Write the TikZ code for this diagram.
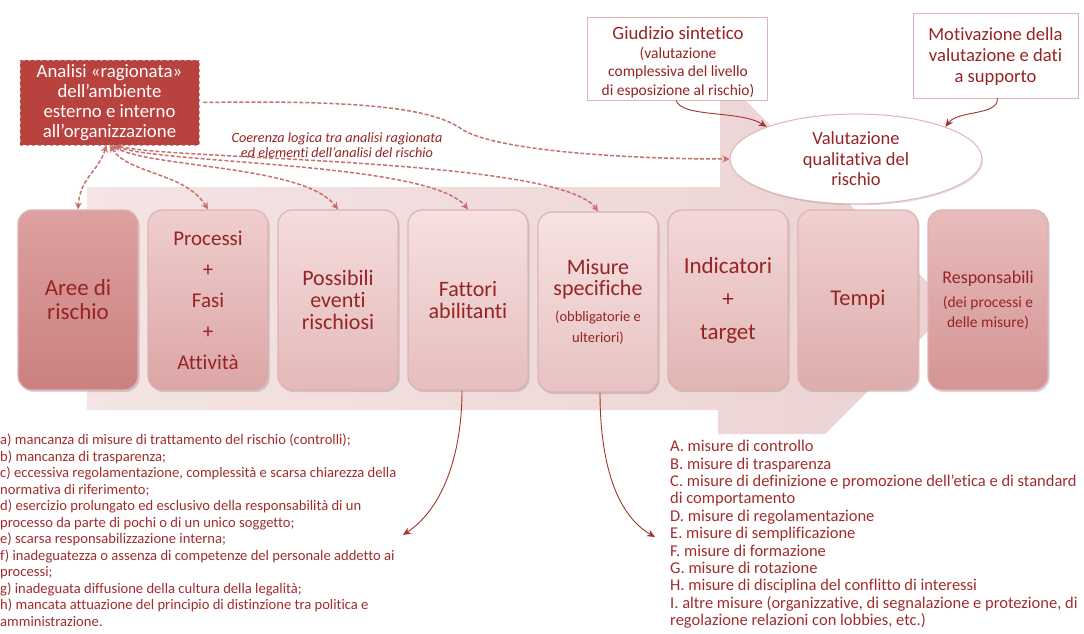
\documentclass[tikz,border=0pt]{standalone}
\usepackage{fontspec}
\setmainfont{Carlito}[Ligatures={NoCommon,NoContextual,NoRequired}]
\usetikzlibrary{arrows.meta,shapes.geometric,shadows,calc}
\definecolor{txtred}{RGB}{150,36,36}
\definecolor{listred}{RGB}{160,45,45}
\definecolor{anbox}{RGB}{183,66,62}
\definecolor{anborder}{RGB}{215,140,135}
\definecolor{bgL}{RGB}{244,228,228}
\definecolor{bgR}{RGB}{236,210,210}
\definecolor{dashc}{RGB}{200,112,110}
\definecolor{arrc}{RGB}{165,50,48}
\definecolor{wborder}{RGB}{225,180,178}
\definecolor{rimc}{RGB}{222,178,176}
\definecolor{tA}{RGB}{222,160,160}\definecolor{bA}{RGB}{203,128,128}
\definecolor{tB}{RGB}{240,206,206}\definecolor{bB}{RGB}{220,165,165}
\definecolor{tC}{RGB}{245,220,220}\definecolor{bC}{RGB}{228,185,185}
\definecolor{tD}{RGB}{246,224,224}\definecolor{bD}{RGB}{230,190,190}
\definecolor{tE}{RGB}{247,226,226}\definecolor{bE}{RGB}{232,194,194}
\definecolor{tF}{RGB}{243,216,216}\definecolor{bF}{RGB}{226,180,180}
\definecolor{tG}{RGB}{240,208,208}\definecolor{bG}{RGB}{222,172,172}
\definecolor{tH}{RGB}{232,188,188}\definecolor{bH}{RGB}{212,148,148}
\newcommand\fsz[2]{\fontsize{#1}{#2}\selectfont}
\begin{document}
\begin{tikzpicture}[x=1pt,y=-1pt,
  stagebox/.style={rectangle, rounded corners=14pt, minimum width=120pt, minimum height=180pt,
    inner sep=0pt, align=center, text=txtred, draw=rimc, line width=1.2pt,
    drop shadow={shadow xshift=1.5pt, shadow yshift=-2pt, opacity=0.25, fill=black!60}},
  wbox/.style={rectangle, draw=wborder, line width=0.8pt, fill=white, inner sep=0pt},
  plaintxt/.style={align=center, text=txtred, inner sep=0pt},
  dasharr/.style={draw=dashc, line width=1.5pt, dash pattern=on 4pt off 2pt,
    {Stealth[length=7pt,width=7pt]}-{Stealth[length=7pt,width=7pt]}},
  dasharrone/.style={draw=dashc, line width=1.5pt, dash pattern=on 4pt off 2pt,
    -{Stealth[length=7pt,width=7pt]}},
  solarr/.style={draw=arrc, line width=0.9pt, -{Stealth[length=8pt,width=7pt]}},
  listtxt/.style={align=left, text=listred, inner sep=0pt},
]
\useasboundingbox (0,0) rectangle (1084,634);

% background arrow
\shade[left color=bgL, right color=bgR] (87,187) -- (720,187) -- (720,75) -- (952,307)
  -- (825,434) -- (718,434) -- (718,410) -- (87,410) -- cycle;

% analysis box
\node[rectangle, fill=anbox, draw=anborder, dashed, line width=0.8pt, minimum width=179pt,
  minimum height=85pt, inner sep=0pt, align=center, text=white, font=\fsz{18.8}{19.8}]
  (analisi) at (109.5,102.5) {Analisi «ragionata»\\dell’ambiente\\esterno e interno\\all’organizzazione};

% top right boxes
\node[wbox, minimum width=180pt, minimum height=83pt] (giud) at (677,58.5) {};
\node[plaintxt, font=\fsz{15.5}{18.5}] (giudtxt) at (678,62)
  {\fsz{18.8}{18.5}Giudizio sintetico\\(valutazione\\complessiva del livello\\di esposizione al rischio)};
\node[wbox, minimum width=165pt, minimum height=85pt] (motiv) at (995.5,55.5) {};
\node[plaintxt, font=\fsz{18.6}{21}] (motivtxt) at (995.5,57)
  {Motivazione della\\valutazione e dati\\a supporto};

% ellipse
\node[ellipse, draw=wborder, line width=1pt, fill=white, minimum width=252pt, minimum height=90pt,
  inner sep=0pt, align=center, text=txtred, font=\fsz{18.5}{20.5},
  drop shadow={shadow xshift=1pt, shadow yshift=-1.5pt, opacity=0.2, fill=black!60}] (val) at (856,159)
  {Valutazione\\qualitativa del\\rischio};

% coherence label
\node[plaintxt, font=\itshape\fsz{14.2}{14.5}] (coer) at (337,145)
  {Coerenza logica tra analisi ragionata\\ed elementi dell’analisi del rischio};

% stage boxes
\node[stagebox, top color=tA, bottom color=bA, font=\fsz{23}{24}] (b1) at (78,300) {Aree di\\rischio};
\node[stagebox, top color=tB, bottom color=bB, font=\fsz{21}{31}] (b2) at (208,300) {Processi\\+\\Fasi\\+\\Attività};
\node[stagebox, top color=tC, bottom color=bC, font=\fsz{22}{22}] (b3) at (338,300) {Possibili\\eventi\\rischiosi};
\node[stagebox, top color=tD, bottom color=bD, font=\fsz{22}{22}] (b4) at (468,300) {Fattori\\abilitanti};
\node[stagebox, top color=tE, bottom color=bE, font=\fsz{22}{21}] (b5) at (598,302)
  {Misure\\specifiche\\[5pt]\fsz{14.5}{16}(obbligatorie e\\\fsz{14.5}{16}ulteriori)};
\node[stagebox, top color=tF, bottom color=bF, font=\fsz{23}{33}] (b6) at (728,300) {Indicatori\\+\\target};
\node[stagebox, top color=tG, bottom color=bG, font=\fsz{22.5}{24}] (b7) at (858,300) {Tempi};
\node[stagebox, top color=tH, bottom color=bH, font=\fsz{18}{20}] (b8) at (988,300)
  {Responsabili\\[4pt]\fsz{15.5}{16}(dei processi e\\\fsz{15.5}{16}delle misure)};

% lists
\node[listtxt, anchor=north west, font=\fsz{14.6}{16.5}] (listL) at (0,434) {a) mancanza di misure di trattamento del rischio (controlli);\\
b) mancanza di trasparenza;\\
c) eccessiva regolamentazione, complessità e scarsa chiarezza della\\
normativa di riferimento;\\
d) esercizio prolungato ed esclusivo della responsabilità di un\\
processo da parte di pochi o di un unico soggetto;\\
e) scarsa responsabilizzazione interna;\\
f) inadeguatezza o assenza di competenze del personale addetto ai\\
processi;\\
g) inadeguata diffusione della cultura della legalità;\\
h) mancata attuazione del principio di distinzione tra politica e\\
amministrazione.};
\node[listtxt, anchor=north west, font=\fsz{16.5}{17.4}] (listR) at (670,440) {A. misure di controllo\\
B. misure di trasparenza\\
C. misure di definizione e promozione dell’etica e di standard\\
di comportamento\\
D. misure di regolamentazione\\
E. misure di semplificazione\\
F. misure di formazione\\
G. misure di rotazione\\
H. misure di disciplina del conflitto di interessi\\
I. altre misure (organizzative, di segnalazione e protezione, di\\
regolazione relazioni con lobbies, etc.)};

\coordinate (fl) at (403,535);
\coordinate (fr) at (655,537);

% dashed connectors
\draw[dasharr] ([xshift=-3pt]analisi.south) .. controls (98,172) and (80,178) .. (b1.north);
\draw[dasharr] ([xshift=0pt]analisi.south) .. controls (130,175) and (185,172) .. (b2.north);
\draw[dasharr] ([xshift=2pt]analisi.south) .. controls (150,168) and (305,165) .. (b3.north);
\draw[dasharr] ([xshift=4pt]analisi.south) .. controls (160,164) and (430,162) .. (b4.north);
\draw[dasharr] ([xshift=6pt]analisi.south) .. controls (170,160) and (560,158) .. (b5.north);
\draw[dasharrone] ([xshift=4pt]analisi.east) .. controls (360,100) and (430,108) .. (460,128)
  .. controls (490,150) and (620,159) .. (val.west);

% solid connectors
\draw[solarr] ([xshift=-1pt]giud.south) .. controls (682,118) and (740,110) .. (val.north west);
\draw[solarr] ([xshift=2pt]motiv.south) .. controls (998,116) and (958,110) .. (val.north east);
\draw[solarr] ([xshift=-6pt]b4.south) .. controls (462,450) and (445,507) .. (fl);
\draw[solarr] ([xshift=2pt]b5.south) .. controls (600,460) and (615,514) .. (fr);
\end{tikzpicture}
\end{document}
